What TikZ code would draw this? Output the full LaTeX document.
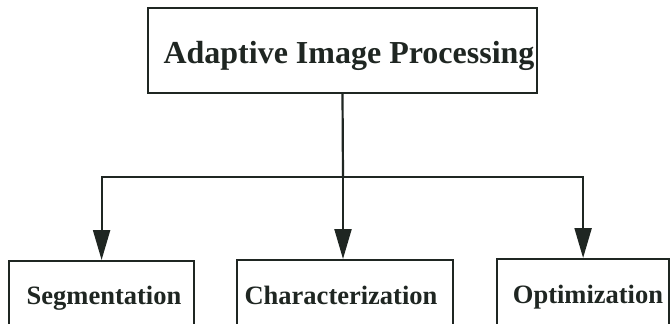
\documentclass[tikz,border=0pt]{standalone}
\usepackage{fontspec}
\setmainfont{Liberation Serif}
\usetikzlibrary{arrows.meta}
\definecolor{ink}{HTML}{1F2622}
\tikzset{
  box/.style={draw=ink, line width=2.2pt, rectangle, inner sep=0pt},
  lbl/.style={text=ink, font=\bfseries\fontsize{26.5}{30}\selectfont, inner sep=0pt, anchor=base},
  conn/.style={draw=ink, line width=2.2pt},
  arr/.style={conn, -{Triangle[length=30pt, width=17pt]}}
}
\begin{document}
\begin{tikzpicture}[x=1pt, y=-1pt]
  \clip (0,0) rectangle (670,324);
  \fill[white] (0,0) rectangle (670,324);

  % root box
  \node[box, minimum width=389pt, minimum height=85pt] (root) at (342.5,50.5) {};
  \node[lbl, font=\bfseries\fontsize{32}{36}\selectfont] (rootl) at (349,63) {Adaptive Image Processing};

  % leaf boxes (their lower edges run past the frame)
  \node[box, anchor=north west, minimum width=185pt, minimum height=90pt] (seg) at (8,260) {};
  \node[box, anchor=north west, minimum width=216pt, minimum height=90pt] (char) at (236,259) {};
  \node[box, anchor=north west, minimum width=172pt, minimum height=90pt] (opt) at (496,258) {};
  \node[lbl] (segl) at (104,304) {Segmentation};
  \node[lbl] (charl) at (341,304) {Characterization};
  \node[lbl] (optl) at (588,303) {Optimization};

  % connectors
  \coordinate (split) at (343,177);
  \draw[conn] (root.south) -- (split);
  \draw[arr] (split) -| (seg.north);
  \draw[arr] (split) -- (split |- char.north);
  \draw[arr] (split) -| (opt.north);
\end{tikzpicture}
\end{document}
